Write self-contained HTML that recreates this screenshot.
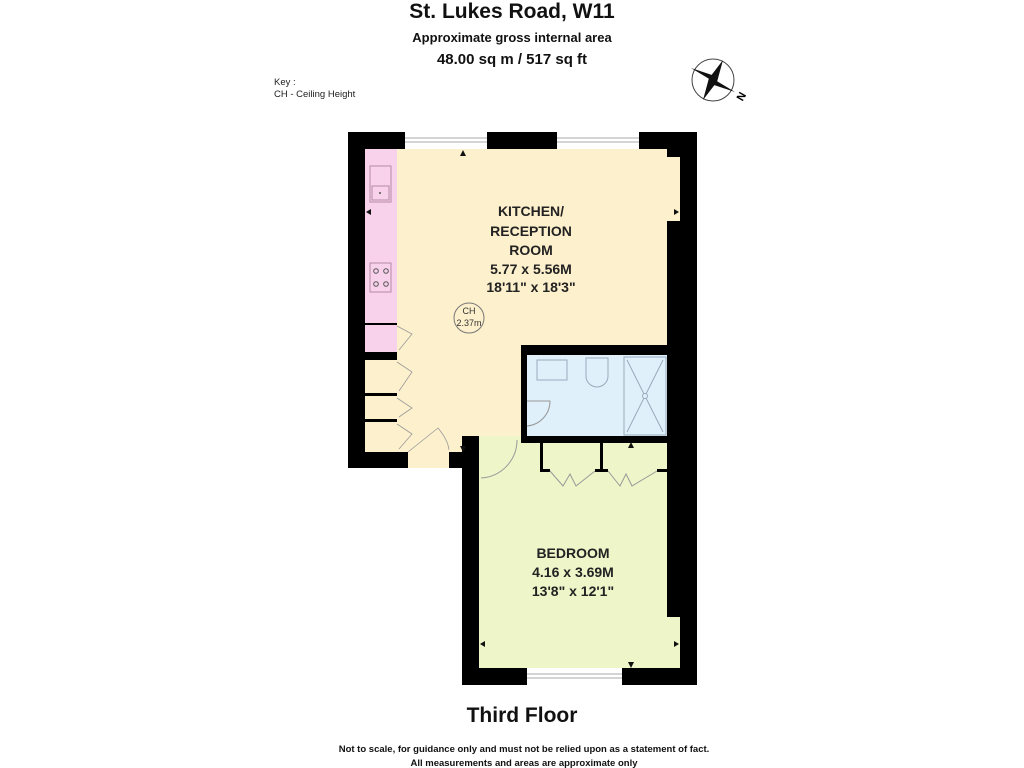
<!DOCTYPE html>
<html><head><meta charset="utf-8"><style>
html,body{margin:0;padding:0;background:#fff;width:1024px;height:768px;overflow:hidden}
svg{display:block}
text{font-family:"Liberation Sans",Arial,sans-serif}
</style></head><body>
<svg width="1024" height="768" viewBox="0 0 1024 768">
<text x="512" y="18" text-anchor="middle" font-size="21" font-weight="bold" fill="#111">St. Lukes Road, W11</text>
<text x="512" y="42" text-anchor="middle" font-size="13" font-weight="bold" fill="#111">Approximate gross internal area</text>
<text x="512" y="64" text-anchor="middle" font-size="15" font-weight="bold" fill="#111">48.00 sq m / 517 sq ft</text>
<text x="274" y="85" font-size="9.5" fill="#222">Key :</text>
<text x="274" y="97" font-size="9.5" fill="#222">CH - Ceiling Height</text>
<g transform="translate(713,80)">
<circle r="21" fill="none" stroke="#444" stroke-width="1"/>
<polygon points="-22,-12 2,-4 3,3" fill="#111"/>
<polygon points="22,12 -2,4 -3,-3" fill="#111"/>
<polygon points="10,-20 4,2 -3,-3" fill="#111"/>
<polygon points="-10,20 -4,-2 3,3" fill="#111"/>
<text x="25" y="22" font-size="11" font-weight="bold" transform="rotate(-60 27 18)">N</text>
</g>
<rect x="348" y="132" width="349" height="336" fill="#000"/>
<rect x="462" y="436" width="235" height="249" fill="#000"/>
<rect x="405" y="132" width="82" height="17" fill="#fff"/>
<line x1="405" y1="138" x2="487" y2="138" stroke="#aaa"/><line x1="405" y1="142" x2="487" y2="142" stroke="#aaa"/>
<rect x="557" y="132" width="82" height="17" fill="#fff"/>
<line x1="557" y1="138" x2="639" y2="138" stroke="#aaa"/><line x1="557" y1="142" x2="639" y2="142" stroke="#aaa"/>
<rect x="527" y="668" width="95" height="17" fill="#fff"/>
<line x1="527" y1="674" x2="622" y2="674" stroke="#aaa"/><line x1="527" y1="678" x2="622" y2="678" stroke="#aaa"/>
<path d="M365 149 H667 V345 H521 V436 H462 V452 H449 V468 H408 V452 H365 Z" fill="#fdf0cc"/>
<rect x="667" y="157" width="13" height="64" fill="#fdf0cc"/>
<rect x="365" y="149" width="32" height="175" fill="#f7d2ea"/>
<rect x="365" y="325" width="32" height="27" fill="#f7d2ea"/>
<rect x="370" y="166" width="21" height="36" fill="none" stroke="#b58aa5" stroke-width="1"/>
<rect x="372" y="186" width="17" height="14" fill="none" stroke="#b58aa5"/>
<circle cx="380" cy="193" r="1" fill="#555"/>
<rect x="370" y="263" width="21" height="29" fill="none" stroke="#b58aa5"/>
<circle cx="376" cy="271" r="2.3" fill="none" stroke="#555"/><circle cx="386" cy="271" r="2.3" fill="none" stroke="#555"/>
<circle cx="376" cy="284" r="2.3" fill="none" stroke="#555"/><circle cx="386" cy="284" r="2.3" fill="none" stroke="#555"/>
<rect x="365" y="323" width="32" height="2" fill="#000"/>
<rect x="365" y="352" width="32" height="8" fill="#000"/>
<rect x="365" y="393" width="32" height="3" fill="#000"/>
<rect x="365" y="419" width="32" height="3" fill="#000"/>
<g fill="none" stroke="#999" stroke-width="0.8">
<path d="M397 326 L412 334 L399 350"/><path d="M397 362 L412 372 L399 391"/><path d="M397 398 L412 408 L399 417"/><path d="M397 424 L412 434 L399 449"/>
<path d="M408 452 L438 428 Q448 440 449 450"/>
</g>
<rect x="527" y="355" width="140" height="81" fill="#dff0fb"/>
<rect x="537" y="360" width="30" height="20" fill="none" stroke="#9ab"/>
<path d="M586 358 h22 v18 a11 11 0 0 1 -22 0z" fill="none" stroke="#9ab"/>
<rect x="624" y="357" width="42" height="78" fill="none" stroke="#9ab"/>
<line x1="627" y1="360" x2="663" y2="432" stroke="#9ab"/><line x1="663" y1="360" x2="627" y2="432" stroke="#9ab"/>
<circle cx="645" cy="396" r="2.5" fill="#dff0fb" stroke="#9ab"/>
<path d="M527 401 L550 401 A25 25 0 0 1 527 426" fill="none" stroke="#999"/>
<path d="M479 436 H521 V443 H667 V617 H680 V668 H479 Z" fill="#eef5c9"/>
<path d="M481 478 A38 38 0 0 0 517 440" fill="none" stroke="#999"/>
<rect x="540" y="443" width="3" height="29" fill="#000"/><rect x="540" y="469" width="10" height="3" fill="#000"/>
<rect x="600" y="443" width="3" height="29" fill="#000"/><rect x="595" y="469" width="13" height="3" fill="#000"/>
<rect x="657" y="469" width="10" height="3" fill="#000"/>
<path d="M550 471 L563 486 L570 474 L576 486 L595 471" fill="none" stroke="#999"/>
<path d="M608 471 L620 486 L626 474 L632 486 L657 471" fill="none" stroke="#999"/>
<g font-weight="bold" fill="#222" text-anchor="middle">
<text x="531" y="216" font-size="14">KITCHEN/</text>
<text x="531" y="236" font-size="14">RECEPTION</text>
<text x="531" y="255" font-size="14">ROOM</text>
<text x="531" y="274" font-size="14">5.77 x 5.56M</text>
<text x="531" y="292" font-size="14">18'11" x 18'3"</text>
<text x="573" y="558" font-size="14">BEDROOM</text>
<text x="573" y="577" font-size="14">4.16 x 3.69M</text>
<text x="573" y="596" font-size="14">13'8" x 12'1"</text>
</g>
<circle cx="469" cy="318" r="15" fill="none" stroke="#777"/>
<text x="469" y="314" text-anchor="middle" font-size="9" fill="#333">CH</text>
<text x="469" y="326" text-anchor="middle" font-size="9" fill="#333">2.37m</text>
<g fill="#111">
<polygon points="463,150 466,156 460,156"/><polygon points="463,452 466,446 460,446"/>
<polygon points="631,442 634,448 628,448"/><polygon points="631,668 634,662 628,662"/>
<polygon points="366,212 371,209 371,215"/><polygon points="679,212 674,209 674,215"/>
<polygon points="480,644 485,641 485,647"/><polygon points="679,644 674,641 674,647"/>
</g>
<text x="522" y="722" text-anchor="middle" font-size="21" font-weight="bold" fill="#111">Third Floor</text>
<text x="524" y="752" text-anchor="middle" font-size="9.5" font-weight="bold" fill="#111">Not to scale, for guidance only and must not be relied upon as a statement of fact.</text>
<text x="524" y="766" text-anchor="middle" font-size="9.5" font-weight="bold" fill="#111">All measurements and areas are approximate only</text>
</svg>
</body></html>
